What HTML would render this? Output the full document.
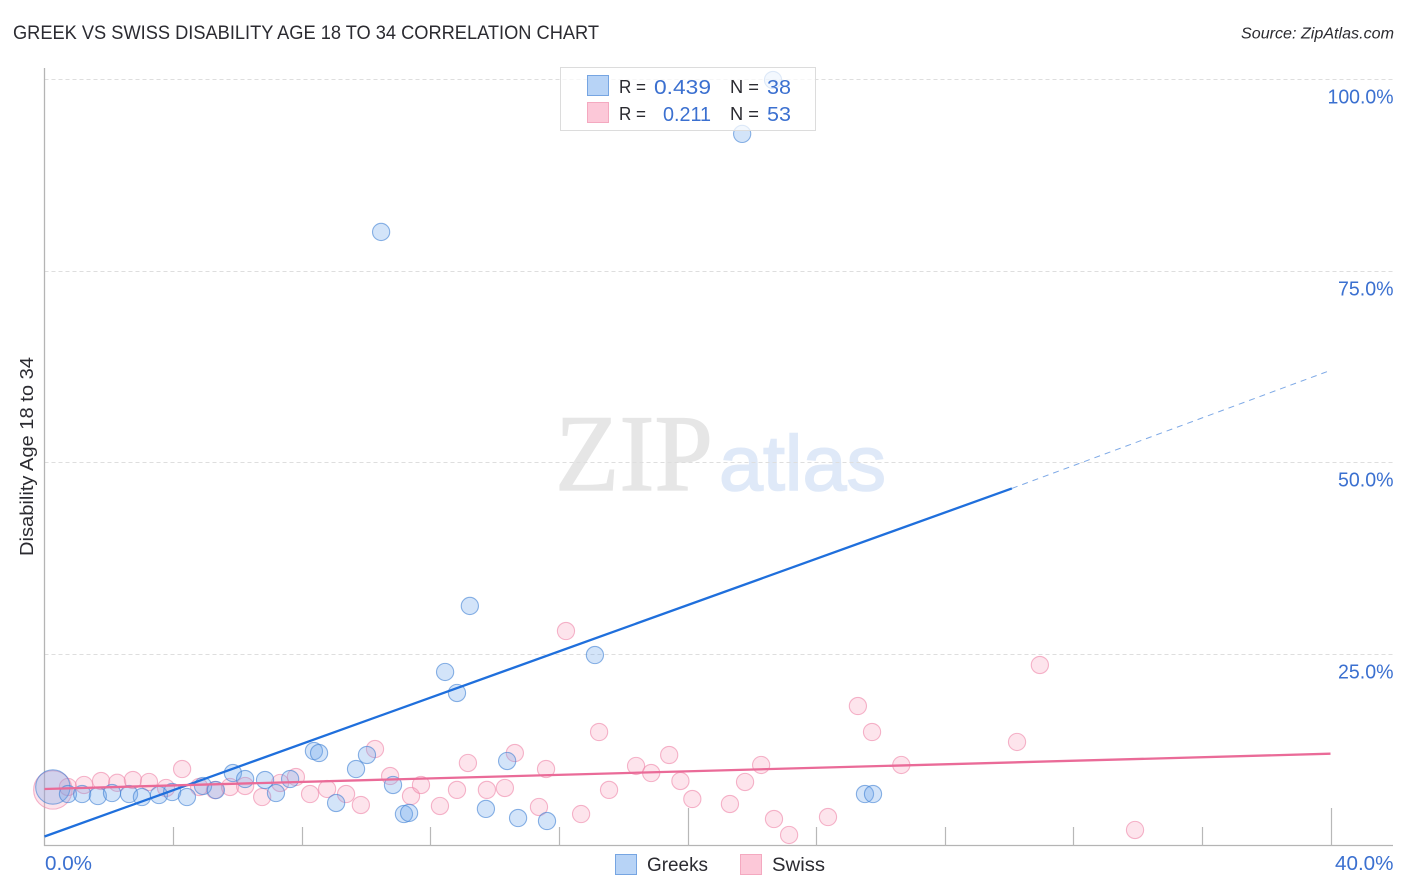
<!DOCTYPE html>
<html lang="en">
<head>
<meta charset="utf-8">
<title>Greek vs Swiss Disability Age 18 to 34 Correlation Chart</title>
<style>
html,body{margin:0;padding:0;background:#fff;}
svg{display:block;font-family:"Liberation Sans",sans-serif;}
.blue{fill:#3b70d0;font-size:20px;}
.dark{fill:#2b2b31;}
</style>
</head>
<body>
<svg id="chart" width="1406" height="892" viewBox="0 0 1406 892" xmlns="http://www.w3.org/2000/svg">
  <rect width="1406" height="892" fill="#ffffff"/>
  <g>
    <text x="555" y="490" font-family="'Liberation Serif',serif" font-size="109" fill="#e6e6e6" stroke="#e6e6e6" stroke-width="1.2" textLength="158" lengthAdjust="spacingAndGlyphs">ZIP</text>
    <text x="719" y="490" font-size="78" fill="#dfe9f8" stroke="#dfe9f8" stroke-width="1.6" textLength="167" lengthAdjust="spacingAndGlyphs">atlas</text>
  </g>
  <g id="grid"></g>
  <g id="axes"></g>
  <g id="points"></g>
  <g id="trends"></g>
  <g id="labels"></g>

  <text class="dark" x="13" y="39" font-size="19" textLength="586" lengthAdjust="spacingAndGlyphs">GREEK VS SWISS DISABILITY AGE 18 TO 34 CORRELATION CHART</text>
  <text class="dark" x="1241" y="38.5" font-size="15.5" font-style="italic" textLength="153" lengthAdjust="spacingAndGlyphs">Source: ZipAtlas.com</text>
  <text class="dark" transform="translate(33,556) rotate(-90)" font-size="18.5" textLength="199" lengthAdjust="spacingAndGlyphs">Disability Age 18 to 34</text>

  <g>
    <rect x="560.5" y="67.5" width="255" height="63" fill="#ffffff" fill-opacity="0.72" stroke="#dcdcdc" stroke-width="1"/>
    <rect x="587.5" y="75.5" width="21" height="20" fill="#b7d3f6" stroke="#76a5e2"/>
    <rect x="587.5" y="102.5" width="21" height="20" fill="#fcc8d8" stroke="#f4a9c0"/>
    <text class="dark" x="619" y="93" font-size="18.5" textLength="27" lengthAdjust="spacingAndGlyphs">R =</text>
    <text class="blue" x="654" y="94" textLength="57" lengthAdjust="spacingAndGlyphs">0.439</text>
    <text class="dark" x="730" y="93" font-size="18.5" textLength="29" lengthAdjust="spacingAndGlyphs">N =</text>
    <text class="blue" x="767" y="94" textLength="24" lengthAdjust="spacingAndGlyphs">38</text>
    <text class="dark" x="619" y="120" font-size="18.5" textLength="27" lengthAdjust="spacingAndGlyphs">R =</text>
    <text class="blue" x="663" y="121" textLength="48" lengthAdjust="spacingAndGlyphs">0.211</text>
    <text class="dark" x="730" y="120" font-size="18.5" textLength="29" lengthAdjust="spacingAndGlyphs">N =</text>
    <text class="blue" x="767" y="121" textLength="24" lengthAdjust="spacingAndGlyphs">53</text>
  </g>

  <g>
    <rect x="615.5" y="854.5" width="21" height="20" fill="#b7d3f6" stroke="#76a5e2"/>
    <text class="dark" x="647" y="871" font-size="19.5" textLength="61" lengthAdjust="spacingAndGlyphs">Greeks</text>
    <rect x="740.5" y="854.5" width="21" height="20" fill="#fcc8d8" stroke="#f4a9c0"/>
    <text class="dark" x="772" y="871" font-size="19.5" textLength="53" lengthAdjust="spacingAndGlyphs">Swiss</text>
  </g>
</svg>
<script>
const greeksX = [0.26,0.73,1.17,1.66,2.10,2.63,3.03,3.56,3.97,4.43,4.93,5.33,5.86,6.24,6.86,7.20,7.64,8.38,8.54,9.07,9.69,10.03,10.84,11.18,11.34,12.46,12.83,13.23,13.73,14.39,14.73,15.63,17.12,21.70,22.66,10.47,25.52,25.77];
const greeksY = [7.66,6.74,6.74,6.48,6.87,6.74,6.35,6.61,7.00,6.35,7.79,7.26,9.48,8.70,8.57,6.87,8.70,12.35,12.09,5.57,10.00,11.83,7.92,4.13,4.27,22.66,19.92,31.27,4.80,11.05,3.61,3.22,24.87,92.84,99.87,80.05,6.74,6.74];
const swissX = [0.26,0.73,1.23,1.76,2.26,2.75,3.25,3.78,4.28,4.81,5.30,5.77,6.24,6.77,7.33,7.82,8.26,8.79,9.38,9.84,10.28,10.75,11.40,11.71,12.30,12.83,13.17,13.76,14.32,14.63,15.38,15.60,16.22,16.69,17.25,17.56,18.40,18.87,19.43,19.78,20.15,21.32,21.79,22.29,22.69,23.16,24.37,25.30,25.74,26.65,30.25,30.96,33.92];
const swissY = [7.28,7.66,7.92,8.44,8.20,8.57,8.31,7.53,10.00,7.66,7.26,7.66,7.79,6.35,8.18,8.96,6.74,7.40,6.74,5.31,12.61,9.09,6.48,7.92,5.18,7.28,10.79,7.28,7.53,12.09,5.05,10.00,28.00,4.13,14.83,7.28,10.40,9.48,11.83,8.44,6.09,5.44,8.31,10.53,3.48,1.40,3.74,18.22,14.83,10.53,13.53,23.57,2.05];
const greeksWeight = [4,1,1,1,1,1,1,1,1,1,1,1,1,1,1,1,1,1,1,1,1,1,1,1,1,1,1,1,1,1,1,1,1,1,1,1,1,1];
const swissWeight = [5,1,1,1,1,1,1,1,1,1,1,1,1,1,1,1,1,1,1,1,1,1,1,1,1,1,1,1,1,1,1,1,1,1,1,1,1,1,1,1,1,1,1,1,1,1,1,1,1,1,1,1,1];
const greeksTrendX = [0, 30.09, 40];
const greeksTrendY = [1.2, 46.6, 62.0];
const swissTrendX = [0, 40];
const swissTrendY = [7.4, 12.0];
const yTicks = [25, 50, 75, 100];
const yTickLabels = ["25.0%", "50.0%", "75.0%", "100.0%"];
const xTicks = [4, 8, 12, 16, 20, 24, 28, 32, 36, 40];
const xMajorTicks = [20, 40];
const xEndLabels = ["0.0%", "40.0%"];

const NS = "http://www.w3.org/2000/svg";
function xScale(v) { return 44.5 + v * 32.15; }
function yScale(v) { return 845.7 - v * 7.667; }
function make(tag, attrs, parent) {
  const el = document.createElementNS(NS, tag);
  for (const k in attrs) el.setAttribute(k, attrs[k]);
  parent.appendChild(el);
  return el;
}
const gridG = document.getElementById("grid");
const axesG = document.getElementById("axes");
const pointsG = document.getElementById("points");
const trendsG = document.getElementById("trends");
const labelsG = document.getElementById("labels");

yTicks.forEach(function (t, i) {
  const py = Math.round(yScale(t)) + 0.5;
  const line = make("line", {x1: 44.5, x2: 1393, y1: py, y2: py, stroke: "#dedede", "stroke-width": 1, "stroke-dasharray": "4 3"}, gridG);
  
  
  const label = make("text", {x: 1393.5, y: py + 24, "text-anchor": "end", class: "blue", textLength: yTickLabels[i].length > 5 ? 66 : 55.5, lengthAdjust: "spacingAndGlyphs"}, labelsG);
  label.textContent = yTickLabels[i];
  
  
});

const yAxis = make("line", {x1: 44.5, x2: 44.5, y1: 68, y2: 846, stroke: "#b4b4b4", "stroke-width": 1.3}, axesG);


const xAxis = make("line", {x1: 44, x2: 1393, y1: 845.5, y2: 845.5, stroke: "#b4b4b4", "stroke-width": 1.3}, axesG);



xTicks.forEach(function (t) {
  const px = Math.round(xScale(t)) + 0.5;
  const major = xMajorTicks.indexOf(t) >= 0;
  const tick = make("line", {x1: px, x2: px, y1: major ? 808 : 827, y2: 846, stroke: "#b8b8b8", "stroke-width": 1.2}, axesG);
  
  
});

const xLabelLeft = make("text", {x: 45, y: 870, class: "blue", textLength: 47, lengthAdjust: "spacingAndGlyphs"}, labelsG);
xLabelLeft.textContent = xEndLabels[0];


const xLabelRight = make("text", {x: 1335, y: 870, class: "blue", textLength: 58.5, lengthAdjust: "spacingAndGlyphs"}, labelsG);
xLabelRight.textContent = xEndLabels[1];



function radius(weight) { return 8.6 * Math.sqrt(weight); }

swissX.forEach(function (x, i) {
  const dot = make("circle", {cx: xScale(x), cy: yScale(swissY[i]), r: radius(swissWeight[i]), fill: "#f8a5c0", "fill-opacity": 0.3, stroke: "#ee86a8", "stroke-opacity": 0.6, "stroke-width": 1.1}, pointsG);
  
  
});
greeksX.forEach(function (x, i) {
  const dot = make("circle", {cx: xScale(x), cy: yScale(greeksY[i]), r: radius(greeksWeight[i]), fill: "#6ea6ea", "fill-opacity": 0.3, stroke: "#3f80d4", "stroke-opacity": 0.6, "stroke-width": 1.1}, pointsG);
  
  
});

const greeksSolid = make("line", {x1: xScale(greeksTrendX[0]), y1: yScale(greeksTrendY[0]), x2: xScale(greeksTrendX[1]), y2: yScale(greeksTrendY[1]), stroke: "#1f6fdc", "stroke-width": 2.3}, trendsG);


const greeksDash = make("line", {x1: xScale(greeksTrendX[1]), y1: yScale(greeksTrendY[1]), x2: xScale(greeksTrendX[2]), y2: yScale(greeksTrendY[2]), stroke: "#7ea9e6", "stroke-width": 1, "stroke-dasharray": "6 5"}, trendsG);


const swissLine = make("line", {x1: xScale(swissTrendX[0]), y1: yScale(swissTrendY[0]), x2: xScale(swissTrendX[1]), y2: yScale(swissTrendY[1]), stroke: "#ea6b98", "stroke-width": 2.3}, trendsG);


</script>
</body>
</html>
